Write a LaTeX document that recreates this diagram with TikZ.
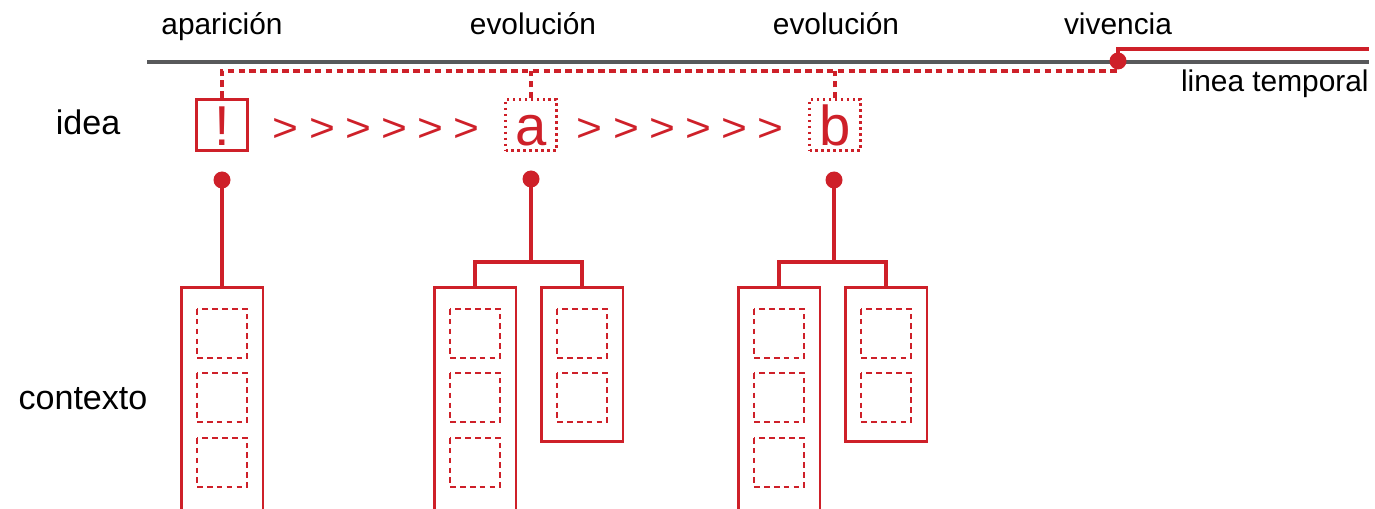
\documentclass[tikz,border=0pt]{standalone}
\usepackage{fontspec}
\setmainfont{Liberation Sans}
\definecolor{rojo}{RGB}{206,32,41}
\definecolor{gris}{RGB}{88,89,91}
\newcommand{\flechita}{\scalebox{1.2}[1.07]{>}}
\newcommand{\mayor}{\flechita\hspace{5.8pt}}
\tikzset{
	linea/.style={draw=rojo, line width=2.2pt},
	punteado/.style={draw=rojo, line width=2.2pt, dash pattern=on 3.8pt off 2.4pt},
	hueco/.style={draw=rojo, line width=1.3pt, dash pattern=on 3.2pt off 2.4pt},
	etiq/.style={inner sep=0pt, anchor=base, font=\fontsize{17}{20}\selectfont},
	lado/.style={inner sep=0pt, anchor=base, font=\fontsize{19.4}{22}\selectfont},
	ideabox/.style={draw=rojo, text=rojo, minimum size=1.02cm, inner sep=0pt, line width=1.7pt,
		text height=22.8pt, text depth=0pt, font=\fontsize{32}{36}\selectfont},
	ideapunt/.style={ideabox, line width=1.4pt, dash pattern=on 1.4pt off 2pt},
	flechas/.style={text=rojo, inner sep=0pt, anchor=base, font=\fontsize{21}{24}\selectfont},
	ctx/.style={draw=rojo, line width=1.7pt, minimum width=1.64cm, inner sep=0pt},
	punto/.style={circle, fill=rojo, minimum size=0.34cm, inner sep=0pt}
}
\begin{document}
\begin{tikzpicture}[x=0.02cm, y=-0.02cm]
		\useasboundingbox (0,0) rectangle (1375,509);
		\clip (0,0) rectangle (1375,509);
		
		% linea temporal
		\coordinate (t0) at (147,62);
		\coordinate (t1) at (1369,62);
		\coordinate (codo) at (1118,71);
		\coordinate (fin) at (1369,49);
		\draw[draw=gris, line width=2.6pt] (t0) -- (t1);
		\node[etiq] (apar) at (222,35) {aparición};
		\node[etiq] (evo1) at (533,35) {evolución};
		\node[etiq] (evo2) at (836,35) {evolución};
		\node[etiq] (viv) at (1118,35) {vivencia};
		\node[etiq, anchor=base east] (ltemp) at (1369,92) {linea temporal};
		
		% ideas
		\node[lado] (idea) at (88,135) {idea};
		\node[lado] (ctxt) at (83,410) {contexto};
		\node[ideabox] (ex) at (222,125) {!};
		\node[ideapunt] (ia) at (531,125) {a};
		\node[ideapunt] (ib) at (835,125) {b};
		\node[flechas] (flecha1) at (376,142) {\mayor\mayor\mayor\mayor\mayor\flechita};
		\node[flechas] (flecha2) at (680,142) {\mayor\mayor\mayor\mayor\mayor\flechita};
		
		\draw[punteado] (ex.north) |- (codo) -- (1118,61);
		\draw[punteado] (ia.north) -- (ia.north |- codo);
		\draw[punteado] (ib.north) -- (ib.north |- codo);
		\node[punto] (vd) at (1118,61) {};
		\draw[linea] (vd.center) |- (fin);
		
		% contextos
		\node[ctx, minimum height=4.5cm] (c1) at (222,399.5) {};
		\node[ctx, minimum height=4.5cm] (c2a) at (475,399.5) {};
		\node[ctx, minimum height=3.1cm] (c2b) at (582,364.5) {};
		\node[ctx, minimum height=4.5cm] (c3a) at (779,399.5) {};
		\node[ctx, minimum height=3.1cm] (c3b) at (886,364.5) {};
		
		\node[punto] (p1) at (222,180) {};
		\node[punto] (p2) at (531,179) {};
		\node[punto] (p3) at (834,180) {};
		\coordinate (r2) at (531,262);
		\coordinate (r3) at (834,262);
		\draw[linea] (p1.center) -- (c1.north);
		\draw[linea] (p2.center) -- (r2) -| (c2a.north);
		\draw[linea] (r2) -| (c2b.north);
		\draw[linea] (p3.center) -- (r3) -| (c3a.north);
		\draw[linea] (r3) -| (c3b.north);
		
		\draw[hueco] (197,309) rectangle (247,358);
		\draw[hueco] (197,373) rectangle (247,422);
		\draw[hueco] (197,438) rectangle (247,487);
		\draw[hueco] (450,309) rectangle (500,358);
		\draw[hueco] (450,373) rectangle (500,422);
		\draw[hueco] (450,438) rectangle (500,487);
		\draw[hueco] (557,309) rectangle (607,358);
		\draw[hueco] (557,373) rectangle (607,422);
		\draw[hueco] (754,309) rectangle (804,358);
		\draw[hueco] (754,373) rectangle (804,422);
		\draw[hueco] (754,438) rectangle (804,487);
		\draw[hueco] (861,309) rectangle (911,358);
		\draw[hueco] (861,373) rectangle (911,422);
		
	\end{tikzpicture}
\end{document}
